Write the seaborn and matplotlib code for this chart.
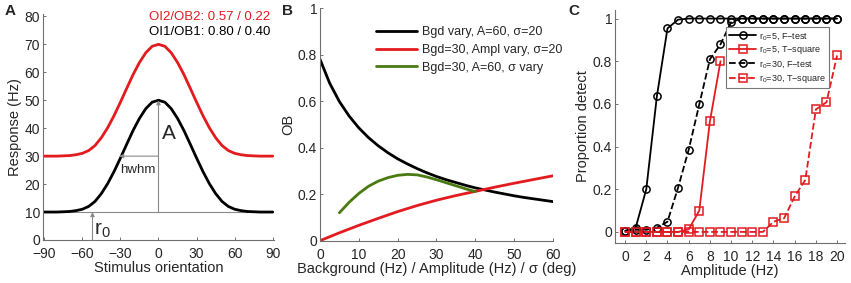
import pandas as pd
import seaborn as sns
import matplotlib.pyplot as plt

sns.set_style("ticks")
plt.rcParams['font.family'] = ['Liberation Sans', 'DejaVu Sans']
plt.rcParams['mathtext.fontset'] = 'custom'
plt.rcParams['mathtext.rm'] = 'Liberation Sans'
plt.rcParams['mathtext.it'] = 'Liberation Sans'

RED = '#e31b1f'
GREEN = '#4a7a12'
GREY = '#8a8a8a'

# ---------------- data ----------------
# Panel A: tuning curves
orient = [-90, -85, -80, -75, -70, -65, -60, -55, -50, -45, -40, -35, -30, -25, -20, -15, -10, -5,
          0, 5, 10, 15, 20, 25, 30, 35, 40, 45, 50, 55, 60, 65, 70, 75, 80, 85, 90]
resp_low = [10.0, 10.0, 10.0, 10.1, 10.2, 10.5, 11.0, 12.0, 13.8, 16.6, 20.2, 24.5, 29.3, 34.3, 39.2, 43.5, 47.0, 49.3,
            50.0, 49.3, 47.0, 43.5, 39.2, 34.3, 29.3, 24.5, 20.2, 16.6, 13.8, 12.0, 11.0, 10.5, 10.2, 10.1, 10.0, 10.0, 10.0]
resp_high = [30.0, 30.0, 30.0, 30.1, 30.2, 30.5, 31.0, 32.0, 33.8, 36.6, 40.2, 44.5, 49.3, 54.3, 59.2, 63.5, 67.0, 69.3,
             70.0, 69.3, 67.0, 63.5, 59.2, 54.3, 49.3, 44.5, 40.2, 36.6, 33.8, 32.0, 31.0, 30.5, 30.2, 30.1, 30.0, 30.0, 30.0]

# Panel B: OB curves
bgd_x = [0, 2.5, 5, 7.5, 10, 12.5, 15, 17.5, 20, 22.5, 25, 27.5, 30, 32.5, 35, 37.5, 40, 42.5, 45, 47.5, 50, 52.5, 55, 57.5, 60]
bgd_ob = [0.780, 0.677, 0.598, 0.536, 0.485, 0.443, 0.408, 0.378, 0.352, 0.330, 0.310, 0.292, 0.276,
          0.262, 0.250, 0.238, 0.227, 0.218, 0.209, 0.201, 0.193, 0.186, 0.180, 0.174, 0.168]
ampl_x = [0, 5, 10, 15, 20, 25, 30, 35, 40, 45, 50, 55, 60]
ampl_ob = [0.0, 0.034, 0.066, 0.096, 0.125, 0.151, 0.174, 0.194, 0.212, 0.230, 0.247, 0.263, 0.279]
sigma_x = [5, 7.5, 10, 12.5, 15, 17.5, 20, 22.5, 25, 27.5, 30, 32.5, 35, 37.5, 40]
sigma_ob = [0.120, 0.165, 0.203, 0.234, 0.256, 0.271, 0.281, 0.285, 0.283, 0.274, 0.262, 0.249, 0.236, 0.223, 0.211]

# Panel C: detection curves
amp = list(range(21))
f5 = [0.005, 0.02, 0.20, 0.636, 0.954, 0.995, 1, 1, 1, 1, 1, 1, 1, 1, 1, 1, 1, 1, 1, 1, 1]
t5 = [0, 0, 0, 0, 0, 0, 0.012, 0.10, 0.518, 0.80]
f30 = [0.005, 0.01, 0.01, 0.02, 0.048, 0.208, 0.385, 0.598, 0.809, 0.879, 0.983, 1, 1, 1, 1, 1, 1, 1, 1, 1, 1]
t30 = [0, 0, 0, 0, 0, 0, 0, 0, 0, 0, 0, 0, 0, 0, 0.048, 0.064, 0.166, 0.244, 0.574, 0.608, 0.827]

fig = plt.figure(figsize=(8.51, 2.83), dpi=100)
axA = fig.add_axes([0.0505, 0.152, 0.2715, 0.800])
axB = fig.add_axes([0.376, 0.1495, 0.2738, 0.822])
axC = fig.add_axes([0.7227, 0.1413, 0.2703, 0.8233])


def style(ax):
    sns.despine(ax=ax)
    for s in ['left', 'bottom']:
        ax.spines[s].set_color('#707070')
        ax.spines[s].set_linewidth(0.8)
    ax.tick_params(direction='in', length=2.5, width=0.7, color='#707070',
                   labelsize=10, pad=2)
    ax.tick_params(axis='x', pad=5)


# ---------------- A ----------------
axA.hlines(10, -90, 90, color=GREY, lw=0.8)
sns.lineplot(x=orient, y=resp_high, ax=axA, color=RED, lw=2)
sns.lineplot(x=orient, y=resp_low, ax=axA, color='black', lw=2)
arrow = dict(arrowstyle='-|>', color=GREY, lw=0.8, mutation_scale=6, shrinkA=0, shrinkB=0)
axA.annotate('', xy=(0, 50), xytext=(0, 10), arrowprops=arrow)
axA.annotate('', xy=(-31, 30), xytext=(0, 30), arrowprops=arrow)
axA.annotate('', xy=(-52, 10), xytext=(-52, 0), arrowprops=arrow)
axA.text(2.5, 38, 'A', fontsize=15, va='center')
axA.text(-16, 25, 'hwhm', fontsize=9.5, ha='center', va='center')
axA.text(-51, 3.6, 'r$_0$', fontsize=15, va='center')
axA.text(88, 79.6, 'OI2/OB2: 0.57 / 0.22', color=RED, fontsize=9.5, ha='right', va='center')
axA.text(88, 74.3, 'OI1/OB1: 0.80 / 0.40', color='black', fontsize=9.5, ha='right', va='center')
axA.set_xlim(-91, 91)
axA.set_ylim(0, 81)
axA.set_xticks([-90, -60, -30, 0, 30, 60, 90])
axA.set_xticklabels(['\u221290', '\u221260', '\u221230', '0', '30', '60', '90'])
axA.set_yticks(range(0, 81, 10))
axA.set_xlabel('Stimulus orientation', fontsize=10.5, labelpad=0)
axA.set_ylabel('Response (Hz)', fontsize=10.5, labelpad=2)
style(axA)

# ---------------- B ----------------
sns.lineplot(x=bgd_x, y=bgd_ob, ax=axB, color='black', lw=2, label='Bgd vary, A=60, \u03c3=20')
sns.lineplot(x=ampl_x, y=ampl_ob, ax=axB, color=RED, lw=2, label='Bgd=30, Ampl vary, \u03c3=20')
sns.lineplot(x=sigma_x, y=sigma_ob, ax=axB, color=GREEN, lw=2, label='Bgd=30, A=60, \u03c3 vary')
axB.set_xlim(0, 60)
axB.set_ylim(0, 1)
axB.set_xticks(range(0, 61, 10))
axB.set_yticks([0, 0.2, 0.4, 0.6, 0.8, 1])
axB.set_yticklabels(['0', '0.2', '0.4', '0.6', '0.8', '1'])
axB.set_xlabel('Background (Hz) / Amplitude (Hz) / \u03c3 (deg)', fontsize=10.5, labelpad=0)
axB.set_ylabel('OB', fontsize=10.5, labelpad=2)
axB.legend(loc='upper right', frameon=False, fontsize=9, handlelength=3.3,
           handletextpad=0.4, labelspacing=0.45, bbox_to_anchor=(1.09, 0.97))
style(axB)

# ---------------- C ----------------
def mk(color):
    return dict(markersize=5.2, markerfacecolor='none', markeredgecolor=color,
                markeredgewidth=1.1, lw=1.3, color=color)


sns.lineplot(x=amp, y=f5, ax=axC, marker='o', label='r$_0$=5, F\u2212test', **mk('black'))
sns.lineplot(x=amp[:len(t5)], y=t5, ax=axC, marker='s', label='r$_0$=5, T\u2212square', **mk(RED))
sns.lineplot(x=amp, y=f30, ax=axC, marker='o', linestyle='--',
             label='r$_0$=30, F\u2212test', **mk('black'))
sns.lineplot(x=amp, y=t30, ax=axC, marker='s', linestyle='--',
             label='r$_0$=30, T\u2212square', **mk(RED))
axC.set_xlim(-0.95, 20.75)
axC.set_ylim(-0.052, 1.04)
axC.set_xticks(range(0, 21, 2))
axC.set_yticks([0, 0.2, 0.4, 0.6, 0.8, 1])
axC.set_yticklabels(['0', '0.2', '0.4', '0.6', '0.8', '1'])
axC.set_xlabel('Amplitude (Hz)', fontsize=10.5, labelpad=0)
axC.set_ylabel('Proportion detect', fontsize=10.5, labelpad=2)
leg = axC.legend(loc='upper right', fontsize=6.5, handlelength=3.0, handletextpad=0.3,
                 labelspacing=0.3, bbox_to_anchor=(0.93, 0.925), fancybox=False,
                 framealpha=1, borderpad=0.35, borderaxespad=0)
leg.get_frame().set_edgecolor('#777777')
leg.get_frame().set_linewidth(0.8)
style(axC)

for x, letter in [(0.006, 'A'), (0.331, 'B'), (0.668, 'C')]:
    fig.text(x, 0.985, letter, fontsize=11, fontweight='bold', va='top')

fig.savefig('out.png', dpi=100)
